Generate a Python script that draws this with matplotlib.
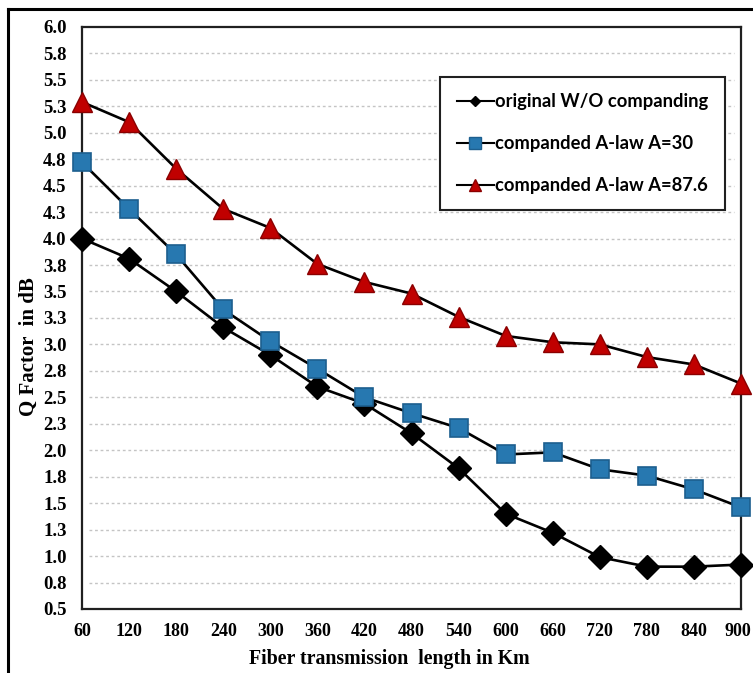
import matplotlib
matplotlib.use("Agg")
import matplotlib.pyplot as plt
import matplotlib.transforms as mtransforms
from matplotlib.lines import Line2D

# fiber length (km) and Q factor (dB)
lengths = [60, 120, 180, 240, 300, 360, 420, 480, 540, 600, 660, 720, 780, 840, 900]
q_original = [4.00, 3.81, 3.50, 3.16, 2.90, 2.60, 2.44, 2.16, 1.83, 1.40, 1.22, 0.99, 0.90, 0.90, 0.92]
q_a30 = [4.72, 4.28, 3.85, 3.33, 3.03, 2.77, 2.50, 2.35, 2.21, 1.96, 1.98, 1.82, 1.76, 1.63, 1.46]
q_a876 = [5.29, 5.10, 4.66, 4.28, 4.10, 3.76, 3.59, 3.48, 3.26, 3.08, 3.02, 3.00, 2.88, 2.81, 2.63]

labels = ["original W/O companding", "companded A-law A=30", "companded A-law A=87.6"]
yticks = [0.5 + 0.25 * i for i in range(23)]
ytick_labels = ["0.5", "0.8", "1.0", "1.3", "1.5", "1.8", "2.0", "2.3", "2.5", "2.8", "3.0", "3.3",
                "3.5", "3.8", "4.0", "4.3", "4.5", "4.8", "5.0", "5.3", "5.5", "5.8", "6.0"]

serif = "Liberation Serif"

fig = plt.figure(figsize=(7.53, 6.73), dpi=100)
ax = fig.add_axes([0.1089, 0.0951, 0.8752, 0.8650])

for y in yticks[1:-1]:
    ax.axhline(y, xmin=0.011, xmax=0.989, color="#c4c4c4", lw=1.0, ls=(0, (2, 2)), zorder=0)

ax.plot(lengths, q_original, color="black", lw=1.9, marker="D", ms=12,
        mfc="black", mec="black", zorder=3, clip_on=False)
ax.plot(lengths, q_a30, color="black", lw=1.9, marker="s", ms=12.5,
        mfc="#2778b0", mec="#1d5f8f", mew=1.2, zorder=4, clip_on=False)
ax.plot(lengths, q_a876, color="black", lw=1.9, marker="^", ms=14,
        mfc="#c00000", mec="#8a0000", mew=1.0, zorder=5, clip_on=False)

ax.set_xlim(60, 900)
ax.set_ylim(0.5, 6.0)
ax.set_xticks(lengths)
ax.set_xticklabels([str(v) for v in lengths], fontfamily=serif, fontweight="bold", fontsize=13)
ax.set_yticks(yticks)
ax.set_yticklabels(ytick_labels, fontfamily=serif, fontweight="bold", fontsize=13.5)
ax.tick_params(axis="both", length=0)
ax.tick_params(axis="x", pad=10)
ax.tick_params(axis="y", pad=11)
for s in ax.spines.values():
    s.set_color("#202020")
    s.set_linewidth(1.6)

# last x label sits right at the picture edge; nudge it in a little
last = ax.get_xticklabels()[-1]
last.set_transform(last.get_transform() +
                   mtransforms.ScaledTranslation(-3 / 100, 0, fig.dpi_scale_trans))

ax.set_xlabel("Fiber transmission  length in Km", fontfamily=serif, fontweight="bold", fontsize=14.3)
ax.set_ylabel("Q Factor  in dB", fontfamily=serif, fontweight="bold", fontsize=15)
ax.xaxis.set_label_coords(0.467, -0.068)
ax.yaxis.set_label_coords(-0.066, 0.45)

handles = [
    Line2D([], [], color="black", lw=1.5, marker="D", ms=5, mfc="black", mec="black"),
    Line2D([], [], color="black", lw=1.5, marker="s", ms=8, mfc="#2778b0", mec="#1d5f8f"),
    Line2D([], [], color="black", lw=1.5, marker="^", ms=8, mfc="#c00000", mec="#8a0000"),
]
leg = ax.legend(handles, labels, loc="upper right", bbox_to_anchor=(0.976, 0.914),
                borderaxespad=0, fancybox=False, framealpha=1, edgecolor="#202020",
                prop={"family": "Lato", "weight": "bold", "size": 13.2},
                handlelength=2.0, handletextpad=0.1, labelspacing=1.35,
                borderpad=0.9)
leg.get_frame().set_linewidth(1.5)

# outer frame around the picture (only top and left edges visible)
fig.add_artist(Line2D([0.0106, 1.0], [1 - 9 / 673, 1 - 9 / 673], color="black", lw=2.2,
                      transform=fig.transFigure))
fig.add_artist(Line2D([0.0106, 0.0106], [0.0, 1 - 9 / 673], color="black", lw=2.2,
                      transform=fig.transFigure))

fig.savefig("out.png", dpi=100)
